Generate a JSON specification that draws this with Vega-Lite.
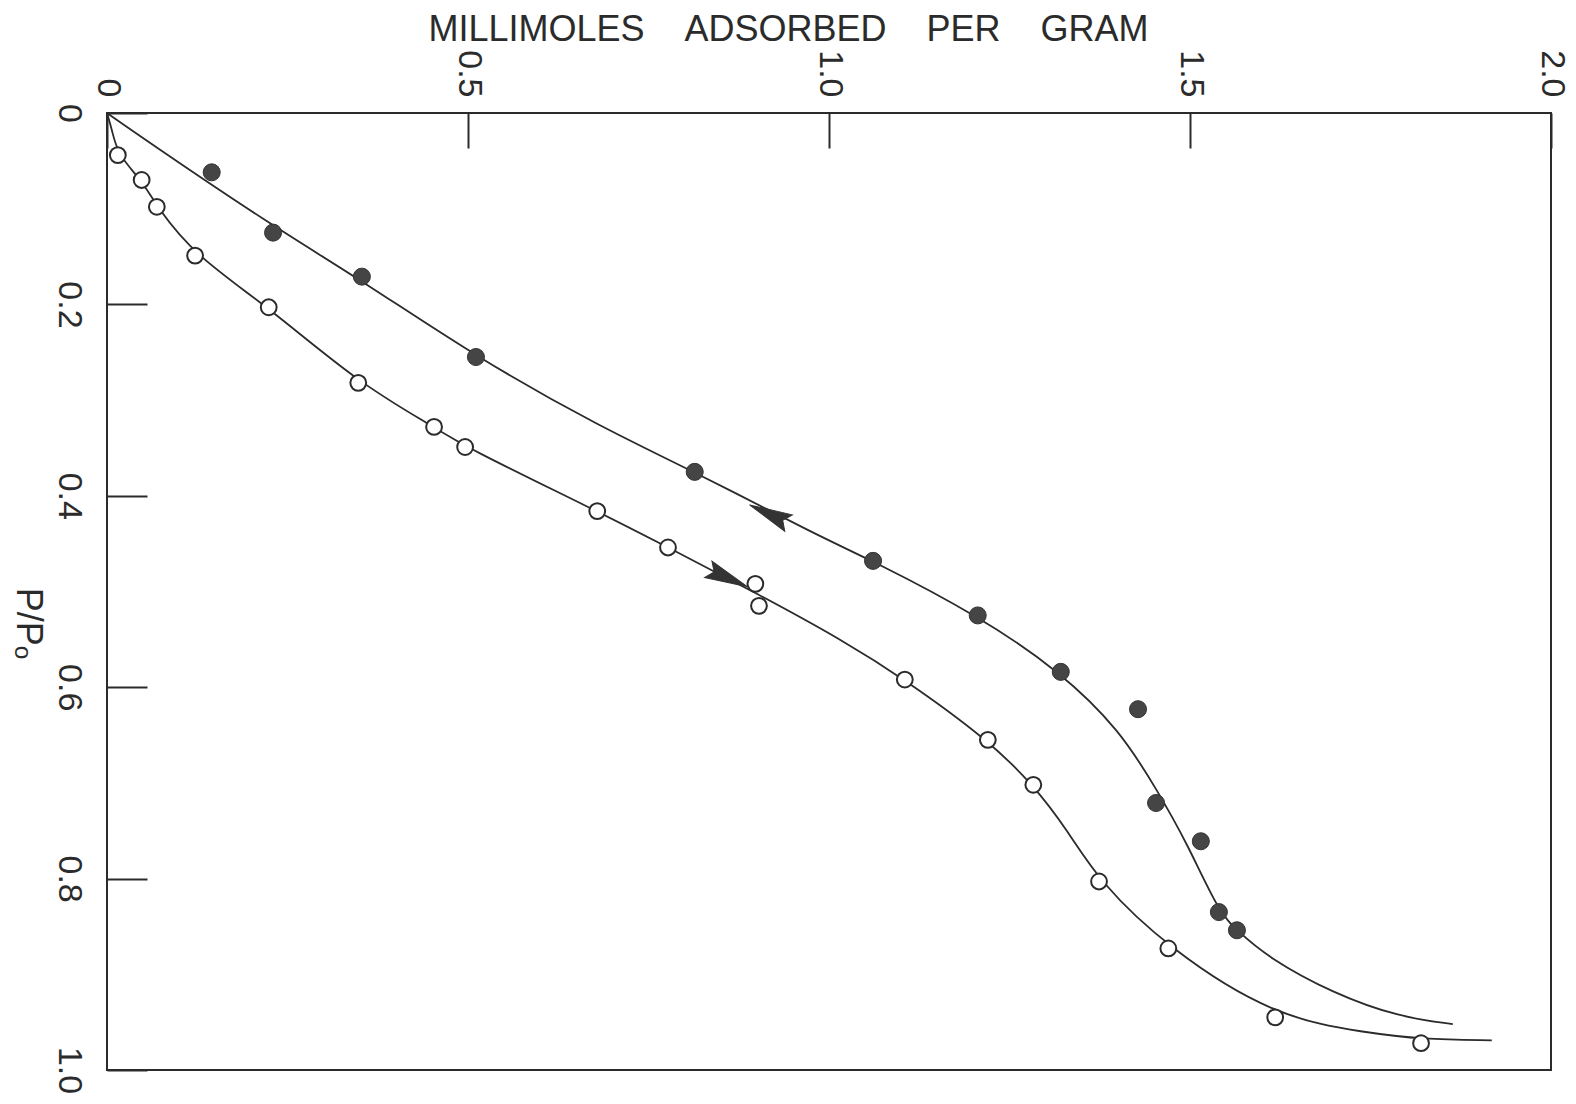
{
  "$schema": "https://vega.github.io/schema/vega-lite/v6.json",
  "width": 1444,
  "height": 957,
  "autosize": {"type": "none"},
  "padding": {"left": 107, "top": 113, "right": 25, "bottom": 34},
  "background": "white",
  "config": {
    "view": {"stroke": "#2b2b2b", "strokeWidth": 2},
    "axis": {"grid": false, "domain": false}
  },
  "datasets": {
    "curves": [
      {"curve": "desorption", "seq": 1, "mmol": 0.0, "ppo": 0.0},
      {"curve": "desorption", "seq": 2, "mmol": 0.053, "ppo": 0.028},
      {"curve": "desorption", "seq": 3, "mmol": 0.223, "ppo": 0.115},
      {"curve": "desorption", "seq": 4, "mmol": 0.353, "ppo": 0.175},
      {"curve": "desorption", "seq": 5, "mmol": 0.511, "ppo": 0.255},
      {"curve": "desorption", "seq": 6, "mmol": 0.683, "ppo": 0.328},
      {"curve": "desorption", "seq": 7, "mmol": 0.814, "ppo": 0.375},
      {"curve": "desorption", "seq": 8, "mmol": 0.988, "ppo": 0.443},
      {"curve": "desorption", "seq": 9, "mmol": 1.061, "ppo": 0.468},
      {"curve": "desorption", "seq": 10, "mmol": 1.206, "ppo": 0.525},
      {"curve": "desorption", "seq": 11, "mmol": 1.321, "ppo": 0.584},
      {"curve": "desorption", "seq": 12, "mmol": 1.403, "ppo": 0.645},
      {"curve": "desorption", "seq": 13, "mmol": 1.454, "ppo": 0.707},
      {"curve": "desorption", "seq": 14, "mmol": 1.496, "ppo": 0.763},
      {"curve": "desorption", "seq": 15, "mmol": 1.540, "ppo": 0.835},
      {"curve": "desorption", "seq": 16, "mmol": 1.565, "ppo": 0.854},
      {"curve": "desorption", "seq": 17, "mmol": 1.607, "ppo": 0.882},
      {"curve": "desorption", "seq": 18, "mmol": 1.698, "ppo": 0.920},
      {"curve": "desorption", "seq": 19, "mmol": 1.791, "ppo": 0.945},
      {"curve": "desorption", "seq": 20, "mmol": 1.864, "ppo": 0.952},
      {"curve": "adsorption", "seq": 1, "mmol": 0.0, "ppo": 0.0},
      {"curve": "adsorption", "seq": 2, "mmol": 0.007, "ppo": 0.018},
      {"curve": "adsorption", "seq": 3, "mmol": 0.015, "ppo": 0.044},
      {"curve": "adsorption", "seq": 4, "mmol": 0.048, "ppo": 0.070},
      {"curve": "adsorption", "seq": 5, "mmol": 0.069, "ppo": 0.098},
      {"curve": "adsorption", "seq": 6, "mmol": 0.122, "ppo": 0.149},
      {"curve": "adsorption", "seq": 7, "mmol": 0.224, "ppo": 0.203},
      {"curve": "adsorption", "seq": 8, "mmol": 0.348, "ppo": 0.282},
      {"curve": "adsorption", "seq": 9, "mmol": 0.453, "ppo": 0.328},
      {"curve": "adsorption", "seq": 10, "mmol": 0.496, "ppo": 0.349},
      {"curve": "adsorption", "seq": 11, "mmol": 0.679, "ppo": 0.416},
      {"curve": "adsorption", "seq": 12, "mmol": 0.777, "ppo": 0.454},
      {"curve": "adsorption", "seq": 13, "mmol": 0.900, "ppo": 0.502},
      {"curve": "adsorption", "seq": 14, "mmol": 1.019, "ppo": 0.551},
      {"curve": "adsorption", "seq": 15, "mmol": 1.105, "ppo": 0.592},
      {"curve": "adsorption", "seq": 16, "mmol": 1.220, "ppo": 0.655},
      {"curve": "adsorption", "seq": 17, "mmol": 1.283, "ppo": 0.702},
      {"curve": "adsorption", "seq": 18, "mmol": 1.330, "ppo": 0.749},
      {"curve": "adsorption", "seq": 19, "mmol": 1.374, "ppo": 0.803},
      {"curve": "adsorption", "seq": 20, "mmol": 1.470, "ppo": 0.873},
      {"curve": "adsorption", "seq": 21, "mmol": 1.618, "ppo": 0.945},
      {"curve": "adsorption", "seq": 22, "mmol": 1.745, "ppo": 0.961},
      {"curve": "adsorption", "seq": 23, "mmol": 1.820, "ppo": 0.968},
      {"curve": "adsorption", "seq": 24, "mmol": 1.918, "ppo": 0.969}
    ],
    "points": [
      {"run": "adsorption", "mmol": 0.015, "ppo": 0.044},
      {"run": "adsorption", "mmol": 0.048, "ppo": 0.070},
      {"run": "adsorption", "mmol": 0.069, "ppo": 0.098},
      {"run": "adsorption", "mmol": 0.122, "ppo": 0.149},
      {"run": "adsorption", "mmol": 0.224, "ppo": 0.203},
      {"run": "adsorption", "mmol": 0.348, "ppo": 0.282},
      {"run": "adsorption", "mmol": 0.453, "ppo": 0.328},
      {"run": "adsorption", "mmol": 0.496, "ppo": 0.349},
      {"run": "adsorption", "mmol": 0.679, "ppo": 0.416},
      {"run": "adsorption", "mmol": 0.777, "ppo": 0.454},
      {"run": "adsorption", "mmol": 0.898, "ppo": 0.492},
      {"run": "adsorption", "mmol": 0.903, "ppo": 0.515},
      {"run": "adsorption", "mmol": 1.105, "ppo": 0.592},
      {"run": "adsorption", "mmol": 1.220, "ppo": 0.655},
      {"run": "adsorption", "mmol": 1.283, "ppo": 0.702},
      {"run": "adsorption", "mmol": 1.374, "ppo": 0.803},
      {"run": "adsorption", "mmol": 1.470, "ppo": 0.873},
      {"run": "adsorption", "mmol": 1.618, "ppo": 0.945},
      {"run": "adsorption", "mmol": 1.820, "ppo": 0.972},
      {"run": "desorption", "mmol": 0.145, "ppo": 0.062},
      {"run": "desorption", "mmol": 0.230, "ppo": 0.125},
      {"run": "desorption", "mmol": 0.353, "ppo": 0.171},
      {"run": "desorption", "mmol": 0.511, "ppo": 0.255},
      {"run": "desorption", "mmol": 0.814, "ppo": 0.375},
      {"run": "desorption", "mmol": 1.061, "ppo": 0.468},
      {"run": "desorption", "mmol": 1.206, "ppo": 0.525},
      {"run": "desorption", "mmol": 1.321, "ppo": 0.584},
      {"run": "desorption", "mmol": 1.428, "ppo": 0.623},
      {"run": "desorption", "mmol": 1.453, "ppo": 0.721},
      {"run": "desorption", "mmol": 1.515, "ppo": 0.761},
      {"run": "desorption", "mmol": 1.540, "ppo": 0.835},
      {"run": "desorption", "mmol": 1.565, "ppo": 0.854}
    ],
    "arrows": [
      {"curve": "desorption", "mmol": 0.917, "ppo": 0.419, "heading": 205},
      {"curve": "adsorption", "mmol": 0.860, "ppo": 0.486, "heading": 24}
    ]
  },
  "encoding": {
    "x": {
      "field": "mmol",
      "type": "quantitative",
      "scale": {"domain": [0, 2], "nice": false, "zero": false},
      "axis": {
        "orient": "top",
        "values": [0, 0.5, 1, 1.5, 2],
        "labelExpr": "datum.value == 0 ? '0' : format(datum.value, '.1f')",
        "labelAngle": 90,
        "labelAlign": "right",
        "labelBaseline": "middle",
        "labelFont": "Liberation Sans Narrow, Liberation Sans, DejaVu Sans",
        "labelFontSize": 34,
        "labelColor": "#2b2b2b",
        "labelPadding": 51,
        "ticks": true,
        "tickSize": -35,
        "tickWidth": 2,
        "tickColor": "#2b2b2b",
        "title": "MILLIMOLES\u00a0\u00a0\u00a0\u00a0ADSORBED\u00a0\u00a0\u00a0\u00a0PER\u00a0\u00a0\u00a0\u00a0GRAM",
        "titleFont": "Liberation Sans, DejaVu Sans",
        "titleFontSize": 36,
        "titleFontWeight": "normal",
        "titleColor": "#2b2b2b",
        "titleX": 681,
        "titleY": -73,
        "titleAlign": "center",
        "titleBaseline": "alphabetic"
      }
    },
    "y": {
      "field": "ppo",
      "type": "quantitative",
      "scale": {"domain": [0, 1], "reverse": true, "nice": false, "zero": false},
      "axis": {
        "orient": "left",
        "values": [0, 0.2, 0.4, 0.6, 0.8, 1.0],
        "labelExpr": "datum.value == 0 ? '0' : format(datum.value, '.1f')",
        "labelAngle": 90,
        "labelAlign": "center",
        "labelBaseline": "top",
        "labelFont": "Liberation Sans Narrow, Liberation Sans, DejaVu Sans",
        "labelFontSize": 34,
        "labelColor": "#2b2b2b",
        "labelPadding": 62,
        "ticks": true,
        "tickSize": -40,
        "tickWidth": 2,
        "tickColor": "#2b2b2b",
        "title": "P/Pₒ",
        "titleFont": "Liberation Sans, DejaVu Sans",
        "titleFontSize": 36,
        "titleFontWeight": "normal",
        "titleColor": "#2b2b2b",
        "titleAngle": 90,
        "titleX": -80,
        "titleY": 510,
        "titleAlign": "center",
        "titleBaseline": "middle"
      }
    }
  },
  "layer": [
    {
      "data": {"name": "curves"},
      "mark": {"type": "line", "interpolate": "basis", "color": "#2b2b2b", "strokeWidth": 1.8},
      "encoding": {
        "detail": {"field": "curve", "type": "nominal"},
        "order": {"field": "seq", "type": "quantitative"}
      }
    },
    {
      "data": {"name": "points"},
      "transform": [{"filter": "datum.run == 'desorption'"}],
      "mark": {"type": "point", "shape": "circle", "filled": true, "size": 290, "fill": "#454545", "stroke": "#333333", "strokeWidth": 1, "opacity": 1}
    },
    {
      "data": {"name": "points"},
      "transform": [{"filter": "datum.run == 'adsorption'"}],
      "mark": {"type": "point", "shape": "circle", "filled": false, "size": 250, "fill": "white", "fillOpacity": 1, "stroke": "#2b2b2b", "strokeWidth": 2, "opacity": 1}
    },
    {
      "data": {"name": "arrows"},
      "mark": {"type": "point", "shape": "M1,0L-1,-0.42L-0.7,0L-1,0.42Z", "filled": true, "size": 1849, "fill": "#333333", "stroke": "#333333", "strokeWidth": 1, "opacity": 1},
      "encoding": {
        "angle": {"field": "heading", "type": "quantitative", "scale": null}
      }
    }
  ]
}
